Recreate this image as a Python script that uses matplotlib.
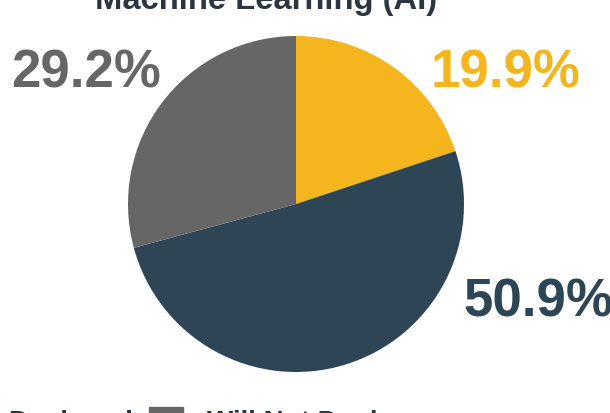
import matplotlib
matplotlib.use("Agg")
import matplotlib.pyplot as plt
from matplotlib.patches import Rectangle

# data
categories = ["Piloting", "Deployed", "Will Not Deploy"]
shares = [19.9, 50.9, 29.2]
colors = ["#F4B51E", "#2E4556", "#666666"]
title = "Machine Learning (AI)"

W, H = 610, 414
plt.rcParams["font.family"] = ["Liberation Sans", "DejaVu Sans"]

fig = plt.figure(figsize=(W / 100, H / 100), dpi=100)
ax = fig.add_axes([0, 0, 1, 1])

# pie (y axis is flipped, so counterclock=True draws clockwise on screen)
ax.pie(shares, colors=colors, center=(296, 205), radius=168,
       startangle=-90, counterclock=True, frame=True,
       wedgeprops=dict(linewidth=0))
ax.set_xlim(0, W)
ax.set_ylim(H, 0)
ax.axis("off")

# percentage labels
label_pos = [(505, 73), (538, 303), (86, 74)]
for val, col, (x, y) in zip(shares, colors, label_pos):
    ax.text(x, y, f"{val:.1f}%", color=col, fontsize=38, fontweight="bold",
            ha="center", va="center")

# title, mostly cropped at the top
ax.text(266, 9, title, color="#2B3641", fontsize=23.6, fontweight="bold",
        ha="center", va="baseline")

# legend row, cropped at the bottom
item_x = [-170, -50, 149]
for name, col, x in zip(categories, colors, item_x):
    ax.add_patch(Rectangle((x, 408), 34, 30, color=col, clip_on=False))
    ax.text(x + 58, 430, name, color="#2B3641", fontsize=20,
            fontweight="bold", ha="left", va="baseline")

fig.savefig("out.png", dpi=100)
